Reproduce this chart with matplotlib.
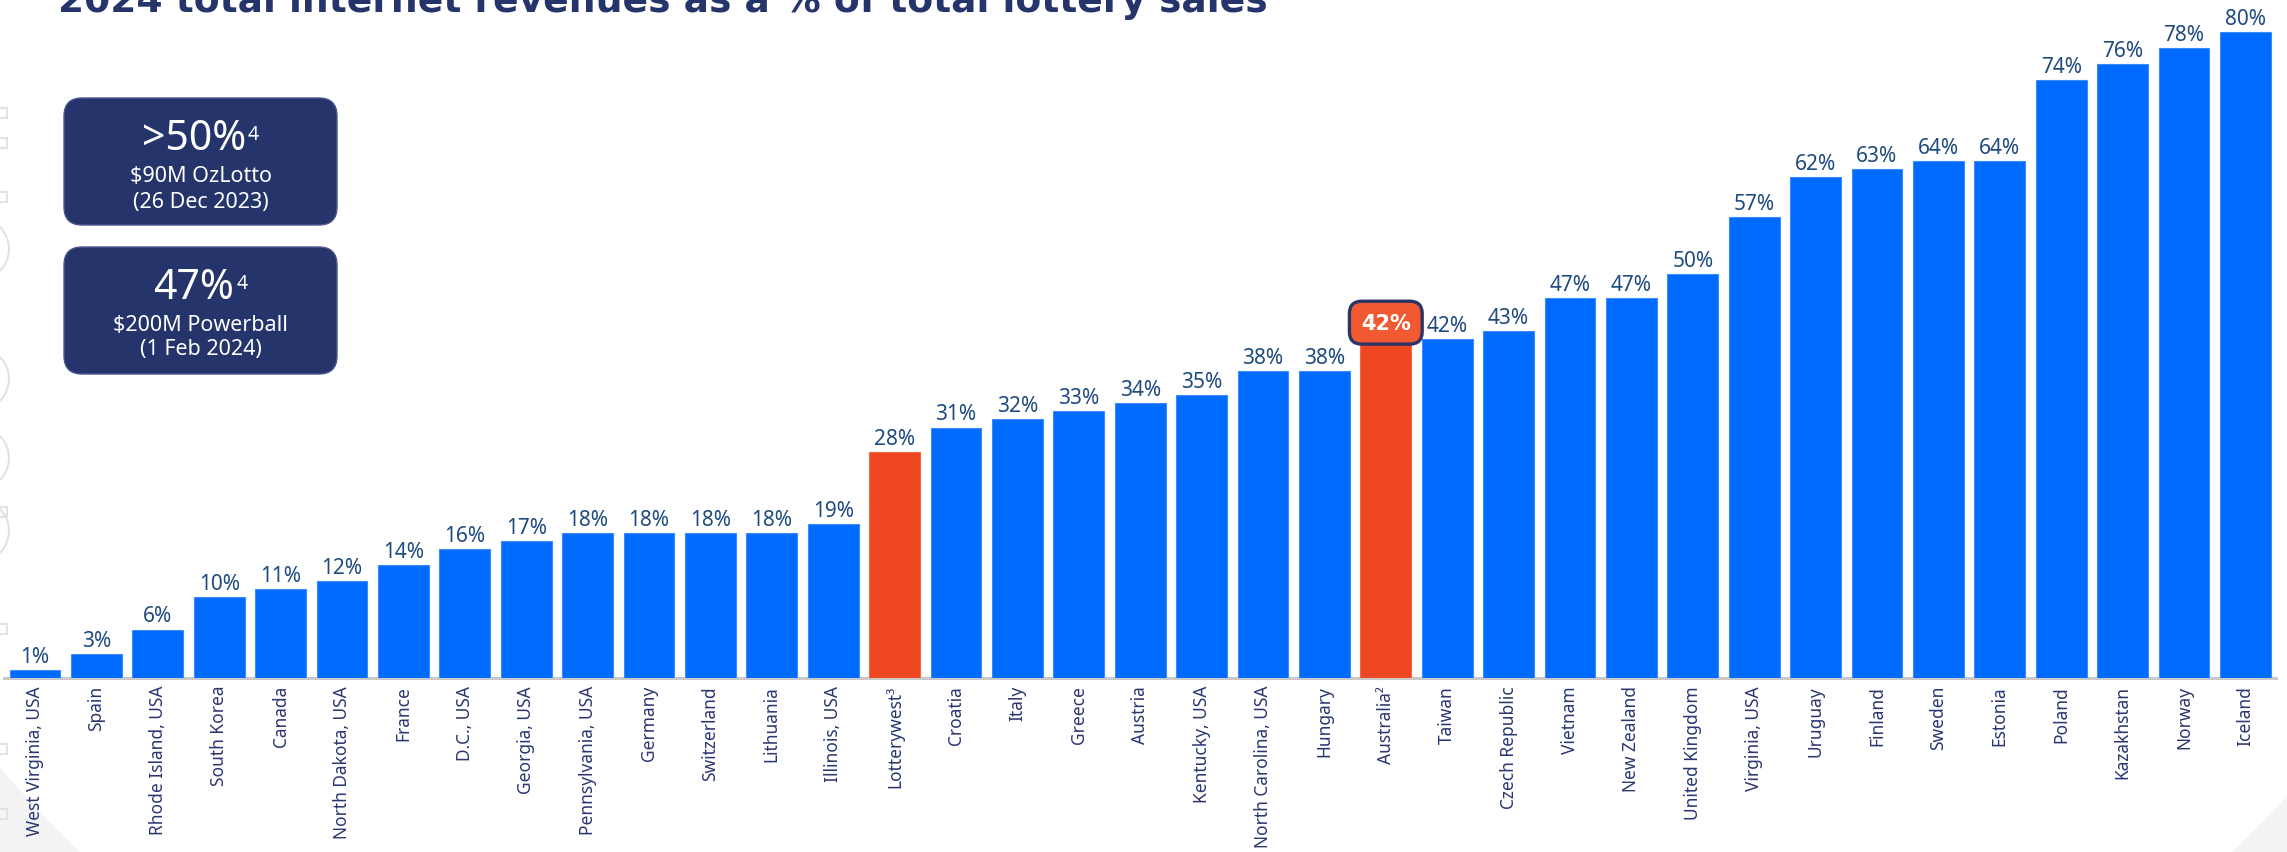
import matplotlib
matplotlib.use("Agg")
import matplotlib.pyplot as plt
from matplotlib.patches import FancyBboxPatch, Ellipse, Circle, Rectangle

# ---------------- data ----------------
categories = [
    "West Virginia, USA", "Spain", "Rhode Island, USA", "South Korea", "Canada",
    "North Dakota, USA", "France", "D.C., USA", "Georgia, USA", "Pennsylvania, USA",
    "Germany", "Switzerland", "Lithuania", "Illinois, USA", "Lotterywest³",
    "Croatia", "Italy", "Greece", "Austria", "Kentucky, USA",
    "North Carolina, USA", "Hungary", "Australia²", "Taiwan", "Czech Republic",
    "Vietnam", "New Zealand", "United Kingdom", "Virginia, USA", "Uruguay",
    "Finland", "Sweden", "Estonia", "Poland", "Kazakhstan", "Norway", "Iceland",
]
values = [1, 3, 6, 10, 11, 12, 14, 16, 17, 18, 18, 18, 18, 19, 28,
          31, 32, 33, 34, 35, 38, 38, 42, 42, 43, 47, 47, 50, 57, 62,
          63, 64, 64, 74, 76, 78, 80]
highlighted = ["Lotterywest³", "Australia²"]
boxed_label = "Australia²"

title = "2024 total internet revenues as a % of total lottery sales"
callout_main = [">50%", "47%"]
callout_sup = ["4", "4"]
callout_line1 = ["$90M OzLotto", "$200M Powerball"]
callout_line2 = ["(26 Dec 2023)", "(1 Feb 2024)"]

# ---------------- style ----------------
BLUE = "#006BFF"
ORANGE = "#EE4722"
NAVY = "#25346B"
VAL_COLOR = "#1E4A80"
TICK_COLOR = "#2A3670"
FONT = ["Noto Sans", "DejaVu Sans"]
BOLD_FONT = ["DejaVu Sans"]
plt.rcParams["font.family"] = FONT

W, H = 2287, 853
fig = plt.figure(figsize=(W / 100, H / 100), dpi=100)
fig.patch.set_facecolor("#f3f3f3")

# background / overlay axes in pixel coordinates
bg = fig.add_axes([0, 0, 1, 1], zorder=0)
bg.set_xlim(0, W)
bg.set_ylim(H, 0)
bg.axis("off")
bg.add_patch(Ellipse((1156, 300), 2675, 1862, fc="white", ec="none"))

# faint watermark shapes on the left edge
deco = "#e2e2e2"
for cy in [250, 380, 459, 532]:
    bg.add_patch(Circle((-22, cy), 31, fc="none", ec=deco, lw=1.5))
for sy in [114, 144, 198, 513, 630, 750, 815]:
    bg.add_patch(Rectangle((-4, sy - 5), 11, 10, fc="none", ec=deco, lw=1.5))

# title (top cut off by the canvas, as in the reference)
t_title = bg.text(58, 12, title, ha="left", va="baseline", fontsize=30,
                  fontweight="bold", color=NAVY, family=BOLD_FONT)

# call-out boxes
box_tops = [99, 248]
box_x, box_w, box_h = 64, 273, 127
main_base = [150, 299]
line1_base = [182, 331]
line2_base = [208, 355]
cx = box_x + box_w / 2
main_texts, sup_texts = [], []
for k in range(2):
    bg.add_patch(FancyBboxPatch((box_x, box_tops[k]), box_w, box_h,
                                boxstyle="round,pad=0,rounding_size=18",
                                fc=NAVY, ec="#4a5890", lw=1))
    mt = bg.text(cx, main_base[k], callout_main[k], ha="right", va="baseline",
                 fontsize=29.5, color="white")
    st = bg.text(cx, main_base[k] - 10, callout_sup[k], ha="left", va="baseline",
                 fontsize=14, color="white")
    main_texts.append(mt)
    sup_texts.append(st)
    bg.text(cx, line1_base[k], callout_line1[k], ha="center", va="baseline",
            fontsize=15.5, color="white")
    bg.text(cx, line2_base[k], callout_line2[k], ha="center", va="baseline",
            fontsize=15.5, color="white")

# ---------------- main bar chart ----------------
n = len(categories)
pitch = 61.4
left_px = 35.0 - 0.5 * pitch
width_px = pitch * n
base_px = 679
px_per_pct = 8.08
ax = fig.add_axes([left_px / W, (H - base_px) / H, width_px / W, base_px / H], zorder=1)
ax.patch.set_alpha(0)

colors = [ORANGE if c in highlighted else BLUE for c in categories]
edges = ["#f26a4a" if c in highlighted else "#3d8cff" for c in categories]
xs = list(range(n))
ax.bar(xs, values, width=0.83, color=colors, edgecolor=edges, linewidth=0.8, zorder=2)
ax.set_xlim(-0.5, n - 0.5)
ax.set_ylim(0, base_px / px_per_pct)

for i, (c, v) in enumerate(zip(categories, values)):
    if c == boxed_label:
        ax.annotate(f"{v}%", (i, v), xytext=(0, 11.5), textcoords="offset points",
                    ha="center", va="center", fontsize=15, fontweight="bold",
                    family=BOLD_FONT, color="white", zorder=6,
                    bbox=dict(boxstyle="round,pad=0.55,rounding_size=0.6",
                              fc="#F15A31", ec="#2B3566", lw=2.4))
    else:
        ax.annotate(f"{v}%", (i, v), xytext=(0, 5.8), textcoords="offset points",
                    ha="center", va="baseline", fontsize=15, color=VAL_COLOR,
                    zorder=3)

ax.set_xticks(xs)
ax.set_xticklabels(categories, rotation=90, fontsize=12.5, color=TICK_COLOR)
ax.tick_params(axis="x", length=0, pad=5)
ax.set_yticks([])
for s in ["left", "right", "top"]:
    ax.spines[s].set_visible(False)
ax.spines["bottom"].set_color("#c9c9c9")
ax.spines["bottom"].set_linewidth(2.2)
ax.spines["bottom"].set_zorder(1)

# ---------------- fit title / center call-out groups ----------------
fig.canvas.draw()
r = fig.canvas.get_renderer()
wt = t_title.get_window_extent(r).width
t_title.set_fontsize(30 * 1208 / wt)
for mt, st in zip(main_texts, sup_texts):
    wm = mt.get_window_extent(r).width
    ws = st.get_window_extent(r).width
    gap = 2
    total = wm + gap + ws
    xr = cx - total / 2 + wm
    mt.set_x(xr)
    st.set_x(xr + gap)

fig.savefig("out.png", dpi=100, facecolor=fig.get_facecolor())
